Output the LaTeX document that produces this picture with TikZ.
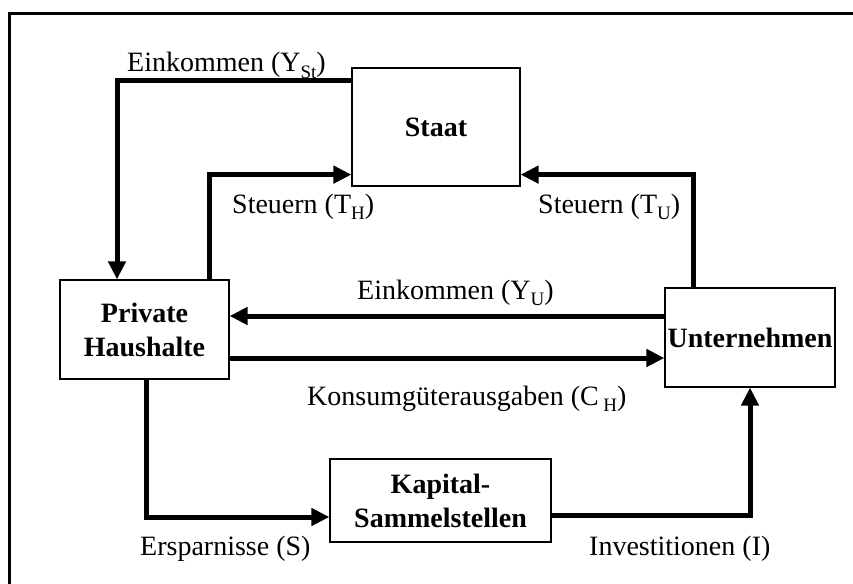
\documentclass[tikz,border=0pt]{standalone}
\usepackage{fontspec}
\setmainfont{Liberation Serif}
\usetikzlibrary{arrows.meta}
\newcommand{\tief}[1]{\raisebox{-6.5pt}{\fontsize{19}{19}\selectfont #1}}
\tikzstyle{sektor} = [draw=black, fill=white, line width=1.2pt,
    rectangle, align=center, inner sep=0pt, font=\bfseries\fontsize{28}{34}\selectfont]
\tikzstyle{strom} = [line width=5pt, -{Triangle[length=18pt,width=17pt]}]
\tikzstyle{beschriftung} = [anchor=base west, inner sep=0pt, font=\fontsize{28}{34}\selectfont]

\begin{document}
\begin{tikzpicture}[x=1pt, y=-1pt]
                \clip (0,0) rectangle (853,583);
                \draw[line width=3.5pt] (9.5,13.5) rectangle (900,650);
                % Sektoren
                \node [sektor, minimum width=168pt, minimum height=118pt] (staat) at (436,127) {Staat};
                \node [sektor, minimum width=169pt, minimum height=99pt] (haushalte) at (144.5,329.5) {Private\\Haushalte};
                \node [sektor, minimum width=170pt, minimum height=99pt] (unternehmen) at (750,337.5) {Unternehmen};
                \node [sektor, minimum width=221pt, minimum height=83pt] (kapital) at (440.5,500.5) {Kapital-\\Sammelstellen};
                % Stroeme
                \draw [strom] ([yshift=-13pt]staat.north west) -| ([xshift=-27.5pt]haushalte.north);
                \draw [strom] ([xshift=64.5pt]haushalte.north) |- ([yshift=12pt]staat.south west);
                \draw [strom] ([xshift=-57pt]unternehmen.north) |- ([yshift=12pt]staat.south east);
                \draw [strom] ([yshift=21.5pt]unternehmen.west) coordinate (yu) -- (yu -| haushalte.east);
                \draw [strom] ([yshift=-28.5pt]haushalte.east) coordinate (ch) -- (ch -| unternehmen.west);
                \draw [strom] ([xshift=1.5pt]haushalte.south) |- ([yshift=-16.5pt]kapital.west);
                \draw [strom] ([yshift=-14.5pt]kapital.east) -| (unternehmen.south);
                % Beschriftungen
                \node [beschriftung] (lyst) at (127,72) {Einkommen (Y\tief{St})};
                \node [beschriftung] (lth) at (232,213) {Steuern (T\tief{H})};
                \node [beschriftung] (ltu) at (538,213) {Steuern (T\tief{U})};
                \node [beschriftung] (lyu) at (357,299) {Einkommen (Y\tief{U})};
                \node [beschriftung] (lch) at (307,405) {Konsumgüterausgaben (C\,\tief{H})};
                \node [beschriftung] (ls) at (140,555) {Ersparnisse (S)};
                \node [beschriftung] (li) at (589,555) {Investitionen (I)};
            \end{tikzpicture}
\end{document}
